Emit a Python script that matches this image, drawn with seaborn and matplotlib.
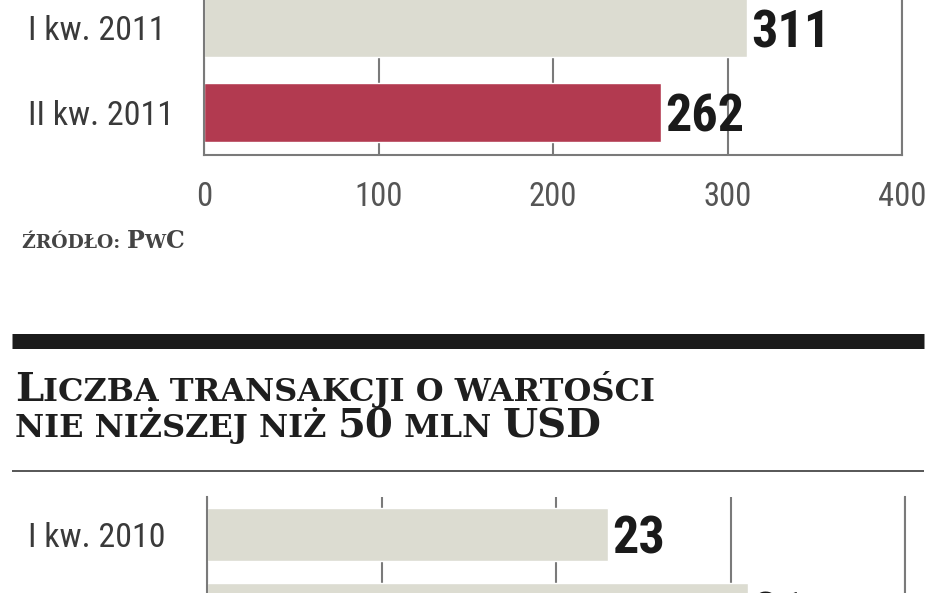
import numpy as np
import matplotlib.pyplot as plt
import seaborn as sns
from matplotlib import font_manager

kwartaly_1 = ["I kw. 2011", "II kw. 2011"]
wartosci_1 = [311, 262]
kolory_1 = ["#dcdcd1", "#b23a50"]
ticks_1 = [0, 100, 200, 300, 400]

kwartaly_2 = ["I kw. 2010", "II kw. 2010"]
transakcje_2 = [23, 31]
kolory_2 = ["#dcdcd1", "#dcdcd1"]
ticks_2 = [0, 10, 20, 30, 40]

tytul_1 = [("L", 29), ("ICZBA TRANSAKCJI O WARTOŚCI", 23)]
tytul_2 = [("NIE NIŻSZEJ NIŻ ", 23), ("50", 29), (" MLN ", 23), ("USD", 29)]
zrodlo = [("ŹRÓDŁO: ", 13.5), ("P", 17), ("W", 13.5), ("C", 17)]

W, H = 948, 593
sns.set_style("white")

# waski krój jak w oryginale, jesli jest
zainstalowane = {f.name for f in font_manager.fontManager.ttflist}
waski = next((n for n in ['Liberation Sans Narrow', 'Roboto Condensed', 'Roboto', 'Liberation Sans']
              if n in zainstalowane), 'DejaVu Sans')
plt.rcParams['font.family'] = [waski, 'DejaVu Sans']

fig = plt.figure(figsize=(W / 100, H / 100), dpi=100)

# tlo w pikselach: linie i tytul
bg = fig.add_axes([0, 0, 1, 1])
bg.set_xlim(0, W)
bg.set_ylim(H, 0)
bg.axis('off')
bg.plot([12, 924], [340.5, 340.5], color="#1b1b1b", lw=15 * 0.72, solid_capstyle='butt')
bg.plot([12, 924], [471, 471], color="#5a5a5a", lw=2 * 0.72, solid_capstyle='butt')


def kapitaliki(x, y, czesci, waga='bold', kolor="#1e1e1e"):
    prev = None
    for tekst, rozm in czesci:
        if prev is None:
            prev = bg.text(x, y, tekst, fontsize=rozm, fontweight=waga, color=kolor,
                           family=['DejaVu Serif'], va='baseline', ha='left')
        else:
            prev = bg.annotate(tekst, xy=(1, y), xycoords=(prev, 'data'), fontsize=rozm,
                               fontweight=waga, color=kolor, family=['DejaVu Serif'],
                               va='baseline', ha='left')


kapitaliki(15, 401, tytul_1)
kapitaliki(15, 437, tytul_2)
kapitaliki(22, 248, zrodlo, kolor="#444444")


def wykres(x0, x1, ytop, ybot, kat, wart, kolory, ticks, dol=True):
    ax = fig.add_axes([x0 / W, 1 - ybot / H, (x1 - x0) / W, (ybot - ytop) / H])
    ax.set_facecolor('none')
    sns.barplot(x=wart, y=kat, hue=kat, palette=kolory, width=0.7, ax=ax,
                legend=False, saturation=1)
    ax.set_xlim(ticks[0], ticks[-1])
    ax.set_ylim(1.5, -0.5)
    ax.set_xticks(ticks)
    ax.grid(axis='x', color="#7a7a7a", lw=1.5)
    ax.set_axisbelow(True)
    for s in ['left', 'right', 'bottom', 'top']:
        ax.spines[s].set_color("#7a7a7a")
        ax.spines[s].set_linewidth(1.5)
    ax.spines['top'].set_visible(False)
    if not dol:
        ax.spines['bottom'].set_visible(False)
    ax.set_yticks(range(len(kat)), labels=kat, ha='left')
    ax.tick_params(axis='y', length=0, pad=(x0 - 28) * 0.72, labelsize=24.5,
                   labelcolor="#3a3a3a")
    ax.tick_params(axis='x', length=0, pad=19, labelsize=23.5, labelcolor="#555555")
    ax.set_xlabel("")
    ax.set_ylabel("")
    for c in ax.containers:
        for t in ax.bar_label(c, fmt='%d', padding=3, fontsize=37.5, fontweight='bold',
                              color="#1a1a1a"):
            t.set_va('center_baseline')
    return ax


wykres(204, 902, -15, 155, kwartaly_1, wartosci_1, kolory_1, ticks_1)
wykres(207, 905, 497, 647, kwartaly_2, transakcje_2, kolory_2, ticks_2, dol=False)

fig.savefig("out.png", dpi=100)
